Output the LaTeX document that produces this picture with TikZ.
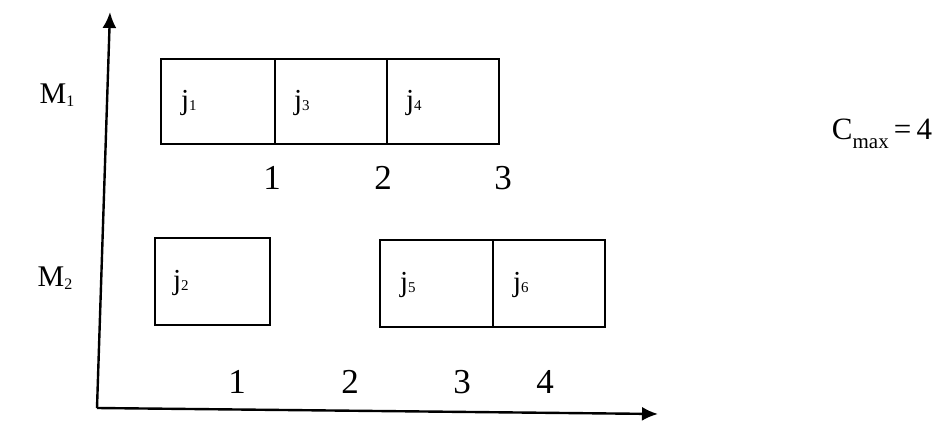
\documentclass[tikz,border=0pt]{standalone}
\usepackage{fontspec}
\setmainfont{Liberation Serif}
\usetikzlibrary{arrows.meta}
\newcommand\jsub[1]{\raisebox{-0.06em}{\fontsize{15}{15}\selectfont #1}}
\newcommand\msub[1]{\raisebox{-0.1em}{\fontsize{16}{16}\selectfont #1}}
\newcommand\csub[1]{\raisebox{-0.3em}{\fontsize{21}{21}\selectfont #1}}
\begin{document}
\begin{tikzpicture}[x=1pt,y=-1pt,
  cell/.style={draw, line width=2.4pt, minimum height=85pt, inner sep=0pt},
  jl/.style={anchor=west, inner sep=0pt, font=\fontsize{29}{29}\selectfont},
  num/.style={inner sep=0pt, font=\fontsize{35}{35}\selectfont},
  mlab/.style={inner sep=0pt, font=\fontsize{30}{30}\selectfont},
  axis/.style={line width=2.4pt, -{Latex[length=16pt,width=14pt]}}]
\useasboundingbox (0,0) rectangle (940,423);
% axes
\coordinate (O) at (97,408);
\coordinate (Ytop) at (110,12);
\coordinate (Xend) at (658,414);
\draw[axis] (O) -- (Ytop);
\draw[axis] (O) -- (Xend);
% machine labels
\node[mlab] (m1) at (57,95) {M\msub{1}};
\node[mlab] (m2) at (55,278) {M\msub{2}};
% M1 cells
\node[cell, minimum width=114pt] (c1) at (218,101.5) {};
\node[cell, minimum width=112pt] (c3) at (331,101.5) {};
\node[cell, minimum width=112pt] (c4) at (443,101.5) {};
\node[jl] (l1) at ([xshift=21pt,yshift=-1pt]c1.west) {j\jsub{1}};
\node[jl] (l3) at ([xshift=20pt,yshift=-1pt]c3.west) {j\jsub{3}};
\node[jl] (l4) at ([xshift=20pt,yshift=-1pt]c4.west) {j\jsub{4}};
% M2 cells
\node[cell, minimum width=115pt, minimum height=87pt] (c2) at (212.5,281.5) {};
\node[cell, minimum width=113pt, minimum height=87pt] (c5) at (436.5,283.5) {};
\node[cell, minimum width=112pt, minimum height=87pt] (c6) at (549,283.5) {};
\node[jl] (l2) at ([xshift=19pt,yshift=-1pt]c2.west) {j\jsub{2}};
\node[jl] (l5) at ([xshift=21pt,yshift=-1pt]c5.west) {j\jsub{5}};
\node[jl] (l6) at ([xshift=21pt,yshift=-1pt]c6.west) {j\jsub{6}};
% numbers M1
\node[num] (a1) at (272,178) {1};
\node[num] (a2) at (383,178) {2};
\node[num] (a3) at (503,178) {3};
% numbers M2
\node[num] (b1) at (237,382) {1};
\node[num] (b2) at (350,382) {2};
\node[num] (b3) at (462,382) {3};
\node[num] (b4) at (545,382) {4};
% Cmax
\node[inner sep=0pt, font=\fontsize{31}{31}\selectfont] (cmax) at (882,134) {C\csub{max}\,=\,4};
\end{tikzpicture}
\end{document}
